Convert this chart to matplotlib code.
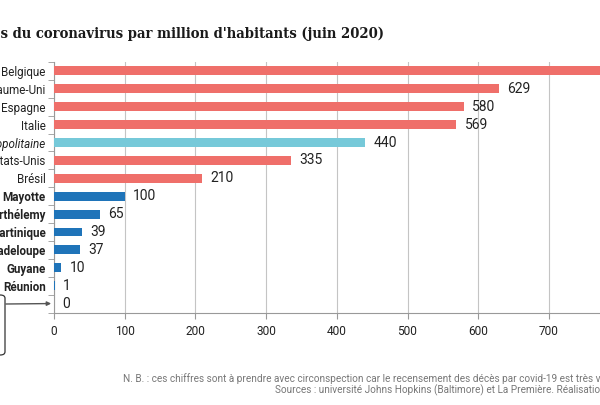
import numpy as np
import matplotlib.pyplot as plt
from matplotlib.patches import FancyBboxPatch

# valeurs (décès par million d'habitants, juin 2020)
pays = ["Belgique", "Royaume-Uni", "Espagne", "Italie", "France métropolitaine",
        "États-Unis", "Brésil", "Mayotte", "Saint-Barthélemy", "Martinique",
        "Guadeloupe", "Guyane", "Réunion", ""]
deces = [834, 629, 580, 569, 440, 335, 210, 100, 65, 39, 37, 10, 1, 0]
groupe = ["monde"] * 4 + ["metro"] + ["monde"] * 2 + ["outremer"] * 7

couleurs = {"monde": "#ef6f6a", "metro": "#76c9d9", "outremer": "#1f74b9"}
styles = {"monde": ("normal", "normal"), "metro": ("italic", "normal"),
          "outremer": ("normal", "bold")}

W, H = 600, 405
fig = plt.figure(figsize=(W / 100, H / 100), dpi=100)
# l'axe déborde à droite : la figure d'origine est rognée
ax = fig.add_axes([54 / W, 1 - 312.5 / H, 565.6 / W, 250.5 / H])

y = np.arange(len(pays))
ax.barh(y, deces, height=0.5, color=[couleurs[g] for g in groupe], zorder=3)
for yi, v in zip(y, deces):
    ax.annotate(str(v), (v, yi), xytext=(6, 0), textcoords="offset points",
                va="center", ha="left", fontsize=10, family="Roboto",
                color="#222222")

ax.set_xlim(0, 800)
ax.set_ylim(len(pays) - 0.5, -0.5)
ax.set_xticks(np.arange(0, 801, 100))
ax.set_yticks(y)
ax.set_yticks(np.arange(-0.5, len(pays)), minor=True)
ax.set_yticklabels(pays)
for lab, g in zip(ax.get_yticklabels(), groupe):
    st, wt = styles[g]
    lab.set_style(st)
    lab.set_weight(wt)
    lab.set_family("Roboto")
    lab.set_fontsize(8.4)
    lab.set_color("#222222")
ax.tick_params(axis="y", which="major", length=0, pad=6)
ax.tick_params(axis="y", which="minor", length=4, color="#999999")
ax.tick_params(axis="x", length=4, color="#999999", pad=5, labelsize=8.6,
               labelcolor="#222222")
for lab in ax.get_xticklabels():
    lab.set_family("Roboto")

ax.grid(axis="x", color="#c4c4c4", lw=0.8, zorder=0)
for s in ["top", "right"]:
    ax.spines[s].set_visible(False)
ax.spines["left"].set_color("#999999")
ax.spines["bottom"].set_color("#999999")

# encadré à gauche (rogné) et sa flèche vers la dernière ligne
box = FancyBboxPatch((-60 / W, 1 - 355 / H), 65 / W, 60 / H,
                     boxstyle="round,pad=0,rounding_size=0.008",
                     transform=fig.transFigure, fc="none", ec="#333333",
                     lw=0.9, clip_on=False)
fig.patches.append(box)
ax.annotate("", xy=(-4, 13), xycoords="data",
            xytext=(6 / W, 1 - 304 / H), textcoords="figure fraction",
            annotation_clip=False,
            arrowprops=dict(arrowstyle="-|>", color="#555555", lw=1,
                            mutation_scale=6, shrinkA=0, shrinkB=0))

fig.text(384 / W, 1 - 38 / H,
         "Décès du coronavirus par million d'habitants (juin 2020)",
         ha="right", va="baseline", fontsize=10.6, fontweight="bold",
         fontstretch="condensed", family="DejaVu Serif", color="#1a1a1a")

fig.text(123 / W, 1 - 382 / H,
         "N. B. : ces chiffres sont à prendre avec circonspection car le "
         "recensement des décès par covid-19 est très variable selon les pays.",
         ha="left", va="baseline", fontsize=7.2, family="Roboto", color="#777777")
fig.text(275 / W, 1 - 393 / H,
         "Sources : université Johns Hopkins (Baltimore) et La Première. "
         "Réalisation : La 1ère.",
         ha="left", va="baseline", fontsize=7.2, family="Roboto", color="#777777")

fig.savefig("out.png", dpi=100)
